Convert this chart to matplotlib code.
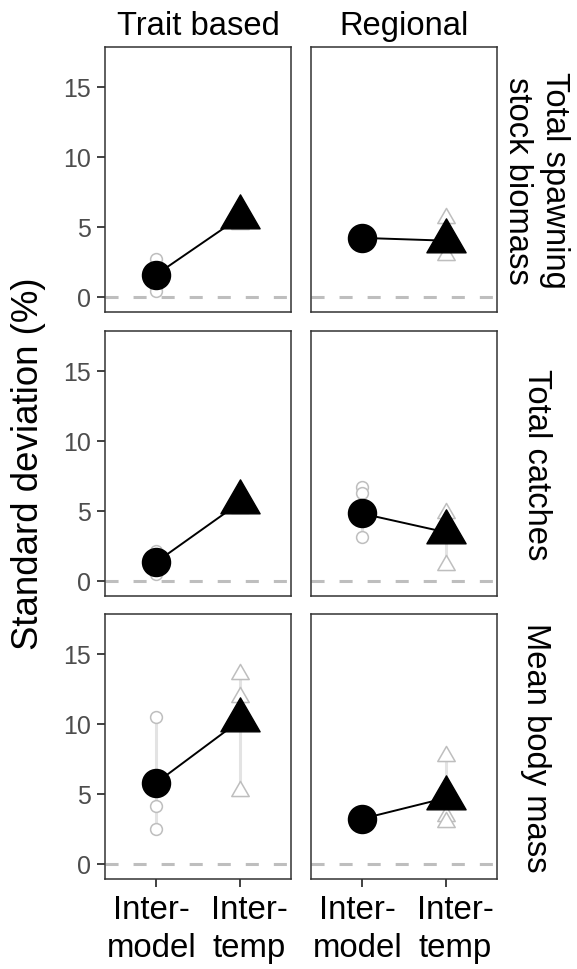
import matplotlib.pyplot as plt
from matplotlib.path import Path
from matplotlib.transforms import ScaledTranslation

plt.rcParams['font.family'] = ['Liberation Sans', 'DejaVu Sans']
plt.rcParams['lines.scale_dashes'] = False

columns = ['Trait based', 'Regional']
rows = ['Total spawning\nstock biomass', 'Total catches', 'Mean body mass']
x_labels = ['Inter-\nmodel', 'Inter-\ntemp']

# grey points: single runs, [row][column]
model_runs = [
    [[2.7, 1.1, 0.7, 0.4], [4.0, 4.2, 4.4]],
    [[2.1, 1.5, 0.8, 0.5], [6.7, 6.3, 3.1]],
    [[10.45, 4.1, 2.45], [2.7, 3.0, 3.2]],
]
temp_runs = [
    [[5.2, 5.5, 5.9], [5.6, 4.0, 3.0]],
    [[5.2, 5.6, 6.0], [4.85, 4.3, 1.1]],
    [[13.55, 11.9, 5.2], [7.7, 3.4, 3.0]],
]
# black points: overall standard deviation
model_sd = [[1.55, 4.2], [1.3, 4.8], [5.75, 3.2]]
temp_sd = [[5.7, 4.0], [5.6, 3.45], [10.25, 4.7]]

# triangle centred on its centroid (like R pch 17)
tri = Path([(0, 1), (-0.866, -0.5), (0.866, -0.5), (0, 1)],
           [Path.MOVETO, Path.LINETO, Path.LINETO, Path.CLOSEPOLY])

fig = plt.figure(figsize=(5.77, 9.70), dpi=100)

W, H = 577, 970
col_left = [105, 311]
row_top = [48, 332, 615]
pw, ph = 186, 265
frame = '#333333'
label_shift = [-4, 9]  # px, x tick labels sit a bit off their ticks

for r in range(3):
    for c in range(2):
        ax = fig.add_axes([col_left[c] / W, 1 - (row_top[r] + ph) / H, pw / W, ph / H])
        ax.axhline(0, color='#BEBEBE', lw=2.2, dashes=(9.4, 10.8), zorder=1)

        m = model_runs[r][c]
        t = temp_runs[r][c]
        ax.plot([1, 1], [min(m), max(m)], color='#E3E3E3', lw=2.2, zorder=2)
        ax.plot([2, 2], [min(t), max(t)], color='#E3E3E3', lw=2.2, zorder=2)
        ax.plot([1] * len(m), m, 'o', ms=8.5, mfc='white', mec='#BEBEBE', mew=1.1, zorder=3)
        ax.plot([2] * len(t), t, marker=tri, ls='none', ms=14.5, mfc='white',
                mec='#BEBEBE', mew=1.1, zorder=3)

        ax.plot([1, 2], [model_sd[r][c], temp_sd[r][c]], color='black', lw=1.4, zorder=4)
        ax.plot(1, model_sd[r][c], 'o', ms=20.2, color='black', zorder=5)
        ax.plot(2, temp_sd[r][c], marker=tri, ms=32.6, color='black', zorder=5)

        ax.set_xlim(0.4, 2.6)
        ax.set_ylim(-1.1, 17.85)
        for s in ax.spines.values():
            s.set_color(frame)
            s.set_linewidth(1.1)
        ax.set_yticks([0, 5, 10, 15])
        ax.set_xticks([1, 2])
        ax.tick_params(color=frame, width=1.3, length=5.5)
        ax.tick_params(axis='y', labelsize=18, labelcolor='#4D4D4D', pad=4.5)
        ax.tick_params(axis='x', labelsize=23.8, labelcolor='black', pad=5)
        if c == 0:
            ax.set_yticklabels(['0', '5', '10', '15'])
        else:
            ax.tick_params(axis='y', left=False, labelleft=False)
        if r == 2:
            labs = ax.set_xticklabels(x_labels, linespacing=1.29)
            for lab, dx in zip(labs, label_shift):
                lab.set_transform(lab.get_transform() +
                                  ScaledTranslation(dx / 100, 0, fig.dpi_scale_trans))
        else:
            ax.tick_params(axis='x', bottom=False, labelbottom=False)

        if r == 0:
            fig.text((col_left[c] + pw / 2) / W, 1 - 35 / H, columns[c],
                     ha='center', va='baseline', fontsize=23.6)
        if c == 1:
            fig.text(536 / W, 1 - (row_top[r] + ph / 2) / H, rows[r], rotation=270,
                     ha='center', va='center', fontsize=23.6, linespacing=1.28)

fig.text(29 / W, 1 - 463.5 / H, 'Standard deviation (%)', rotation=90,
         ha='center', va='center', fontsize=26.4)

fig.savefig('out.png', dpi=100)
